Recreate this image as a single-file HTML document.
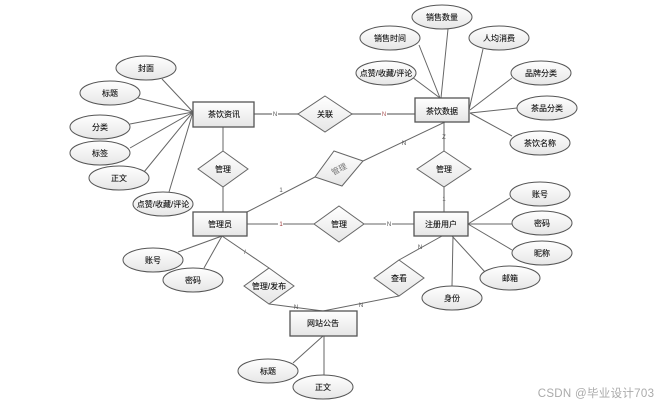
<!DOCTYPE html>
<html><head><meta charset="utf-8"><style>
html,body{margin:0;padding:0;background:#fff;width:666px;height:407px;overflow:hidden}
svg{display:block}
text{font-family:"Liberation Sans","Noto Sans CJK SC",sans-serif;font-size:8px;text-anchor:middle;fill:#111;stroke:#111;stroke-width:.12}
.l{stroke:#666;stroke-width:1;fill:none}
.h{stroke:#888;stroke-width:1.5;fill:none}
.e{fill:url(#g);stroke:#555;stroke-width:1}
.r{fill:url(#g);stroke:#555;stroke-width:1.3}
.d{fill:url(#g);stroke:#666;stroke-width:1}
text.m{font-size:6px;fill:#555;stroke:none}
</style></head><body>
<svg width="666" height="407" viewBox="0 0 666 407" xmlns="http://www.w3.org/2000/svg">
<defs><linearGradient id="g" x1="0" y1="0" x2="0" y2="1"><stop offset="0" stop-color="#fff"/><stop offset="1" stop-color="#e6e6e6"/></linearGradient></defs>
<g class="l">
<path d="M193 112L162 79M193 112L138 98M193 112L130 124M193 112L130 148M193 112L144 172M193 112L169 192"/>
<path d="M223 127V151M223 187V212"/>
<path d="M247 212L315 177M363 161L445 122"/>
<path d="M444 122V151M444 187V212"/>
<path d="M247 224H314M364 224H414"/>
<path d="M440 98L412 77M441 98L448 29M440 98L419 45M469 110L483 49M470 110L512 78M470 113L517 108M470 113L512 136"/>
<path d="M468 224L510 198M468 224H512M468 224L512 250M452 236L485 272M453 236L452 286"/>
<path d="M222 236L178 252M222 236L204 268M222 236L269 268"/>
<path d="M269 304L323 311L399 296M399 260L442 236"/>
<path d="M323 336L293 363M324 336V375"/>
</g>
<path class="h" d="M254 114H298M352 114H415"/>
<g>
<rect x="193" y="102" width="61" height="25" class="r"/>
<rect x="415" y="98" width="54" height="24" class="r"/>
<rect x="193" y="212" width="54" height="24" class="r"/>
<rect x="414" y="212" width="54" height="24" class="r"/>
<rect x="290" y="311" width="67" height="25" class="r"/>
<polygon class="d" points="223,151 248,169 223,187 198,169"/>
<polygon class="d" points="325,96 352,114 325,132 298,114"/>
<polygon class="d" points="444,151 471,169 444,187 417,169"/>
<polygon class="d" points="334,151 363,161 342,186 315,177"/>
<polygon class="d" points="339,206 364,224 339,242 314,224"/>
<polygon class="d" points="269,268 294,286 269,304 244,286"/>
<polygon class="d" points="399,260 424,278 399,296 374,278"/>
<ellipse class="e" cx="146" cy="68" rx="30" ry="12"/>
<ellipse class="e" cx="110" cy="93" rx="30" ry="12"/>
<ellipse class="e" cx="100" cy="127" rx="30" ry="12"/>
<ellipse class="e" cx="100" cy="153" rx="30" ry="12"/>
<ellipse class="e" cx="119" cy="178" rx="30" ry="12"/>
<ellipse class="e" cx="163" cy="204" rx="30" ry="12"/>
<ellipse class="e" cx="442" cy="17" rx="30" ry="12"/>
<ellipse class="e" cx="390" cy="38" rx="30" ry="12"/>
<ellipse class="e" cx="499" cy="38" rx="30" ry="12"/>
<ellipse class="e" cx="386" cy="73" rx="30" ry="12"/>
<ellipse class="e" cx="541" cy="73" rx="30" ry="12"/>
<ellipse class="e" cx="547" cy="108" rx="30" ry="12"/>
<ellipse class="e" cx="540" cy="143" rx="30" ry="12"/>
<ellipse class="e" cx="540" cy="194" rx="30" ry="12"/>
<ellipse class="e" cx="542" cy="223" rx="30" ry="12"/>
<ellipse class="e" cx="542" cy="253" rx="30" ry="12"/>
<ellipse class="e" cx="510" cy="278" rx="30" ry="12"/>
<ellipse class="e" cx="452" cy="298" rx="30" ry="12"/>
<ellipse class="e" cx="153" cy="260" rx="30" ry="12"/>
<ellipse class="e" cx="193" cy="280" rx="30" ry="12"/>
<ellipse class="e" cx="268" cy="371" rx="30" ry="12"/>
<ellipse class="e" cx="323" cy="387" rx="30" ry="12"/>
</g>
<g>
<text x="146" y="71">封面</text><text x="110" y="96">标题</text><text x="100" y="130">分类</text><text x="100" y="156">标签</text><text x="119" y="181">正文</text><text x="163" y="207">点赞/收藏/评论</text>
<text x="224" y="117">茶饮资讯</text><text x="223" y="172">管理</text><text x="325" y="117">关联</text>
<text x="442" y="114">茶饮数据</text><text x="442" y="20">销售数量</text><text x="390" y="41">销售时间</text><text x="499" y="41">人均消费</text><text x="386" y="76">点赞/收藏/评论</text><text x="541" y="76">品牌分类</text><text x="547" y="111">茶品分类</text><text x="540" y="146">茶饮名称</text>
<text x="444" y="172">管理</text><text x="339" y="172" transform="rotate(-28 339 169)" style="fill:#777;stroke:none">管理</text>
<text x="220" y="227">管理员</text><text x="339" y="227">管理</text><text x="441" y="227">注册用户</text>
<text x="540" y="197">账号</text><text x="542" y="226">密码</text><text x="542" y="256">昵称</text><text x="510" y="281">邮箱</text><text x="452" y="301">身份</text>
<text x="153" y="263">账号</text><text x="193" y="283">密码</text><text x="269" y="289">管理/发布</text><text x="399" y="281">查看</text>
<text x="323" y="326">网站公告</text><text x="268" y="374">标题</text><text x="323" y="390">正文</text>
</g>
<g>
<rect x="272" y="111" width="6" height="6" fill="#fff"/><text class="m" x="275" y="116">N</text>
<rect x="381" y="111" width="6" height="6" fill="#fff"/><text class="m" x="384" y="116" style="fill:#a55">N</text>
<text class="m" x="404" y="145">N</text><text class="m" x="444" y="139">Z</text><text class="m" x="444" y="201">1</text>
<text class="m" x="281" y="192">1</text>
<rect x="278" y="221" width="5" height="6" fill="#fff"/><text class="m" x="281" y="226" style="fill:#933">1</text>
<rect x="386" y="221" width="6" height="6" fill="#fff"/><text class="m" x="389" y="226">N</text>
<text class="m" x="245" y="254">/</text><text class="m" x="296" y="309">N</text><text class="m" x="361" y="307">N</text><text class="m" x="420" y="249">N</text>
</g>
<text x="596" y="397" style="font-size:11.5px;fill:#aaa;stroke:none;letter-spacing:.3px">CSDN @毕业设计703</text>
</svg>
</body></html>
